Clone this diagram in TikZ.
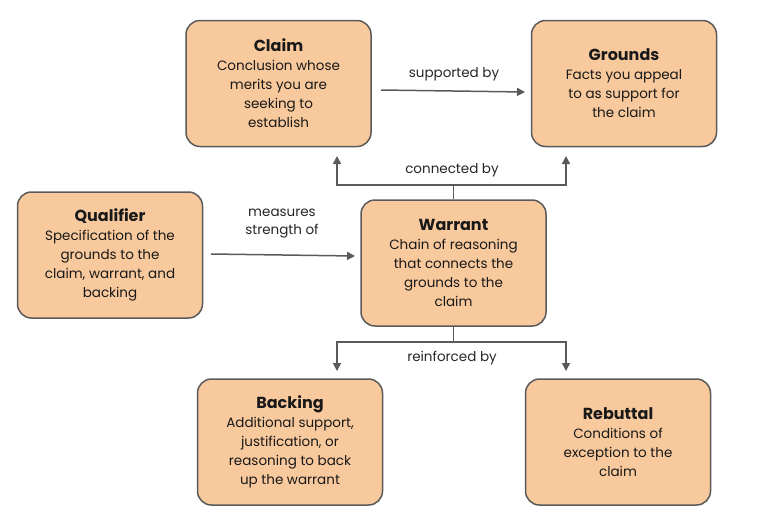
\documentclass[tikz,border=0pt]{standalone}
\usepackage{fontspec}
\setmainfont{Poppins}
\usetikzlibrary{arrows.meta}
\definecolor{boxf}{HTML}{F8C99C}
\definecolor{boxd}{HTML}{5A5A5A}
\begin{document}
\begin{tikzpicture}[x=1pt,y=-1pt,
  box/.style={draw=boxd,line width=1.5pt,fill=boxf,rounded corners=14pt,minimum width=185pt,minimum height=126pt,align=center,inner sep=0pt,font=\fontsize{13.5}{19}\selectfont,text=black!90},
  arr/.style={draw=boxd,line width=1.5pt,-{Triangle[length=8pt,width=8pt]}},
  lab/.style={font=\fontsize{13.5}{17}\selectfont,text=black!85,align=center}]
\useasboundingbox (0,0) rectangle (775,531);
\newcommand{\ttl}[1]{{\fontsize{16}{20}\selectfont\bfseries #1}}
\node[box] (claim) at (278.5,83.5) {\ttl{Claim}\\Conclusion whose\\merits you are\\seeking to\\establish};
\node[box] (grounds) at (624,83.5) {\ttl{Grounds}\\Facts you appeal\\to as support for\\the claim};
\node[box] (qual) at (110,255) {\ttl{Qualifier}\\Specification of the\\grounds to the\\claim, warrant, and\\backing};
\node[box] (warrant) at (453.5,263) {\ttl{Warrant}\\Chain of reasoning\\that connects the\\grounds to the\\claim};
\node[box] (back) at (290,442) {\ttl{Backing}\\Additional support,\\justification, or\\reasoning to back\\up the warrant};
\node[box] (reb) at (618,442) {\ttl{Rebuttal}\\Conditions of\\exception to the\\claim};
\coordinate (s1) at (381,90); \coordinate (e1) at (525,92);
\draw[arr] (s1) -- (e1);
\node[lab] (l1) at (454,74) {supported by};
\coordinate (ct) at (453.5,185); \coordinate (cl) at (337,185); \coordinate (cr) at (566,185);
\coordinate (cle) at (337,156); \coordinate (cre) at (566,156);
\draw[boxd,line width=1.5pt] (warrant.north) -- (ct);
\draw[arr] (ct) -- (cl) -- (cle);
\draw[arr] (ct) -- (cr) -- (cre);
\node[lab] (l2) at (452,170) {connected by};
\coordinate (s3) at (211,254); \coordinate (e3) at (355,256);
\draw[arr] (s3) -- (e3);
\node[lab,font=\fontsize{13.5}{18}\selectfont] (l3) at (282,224) {measures\\strength of};
\coordinate (rt) at (453.5,342); \coordinate (rl) at (337,342); \coordinate (rr) at (566,342);
\coordinate (rle) at (337,371); \coordinate (rre) at (566,371);
\draw[boxd,line width=1.5pt] (warrant.south) -- (rt);
\draw[arr] (rt) -- (rl) -- (rle);
\draw[arr] (rt) -- (rr) -- (rre);
\node[lab] (l4) at (452,358) {reinforced by};
\end{tikzpicture}
\end{document}
